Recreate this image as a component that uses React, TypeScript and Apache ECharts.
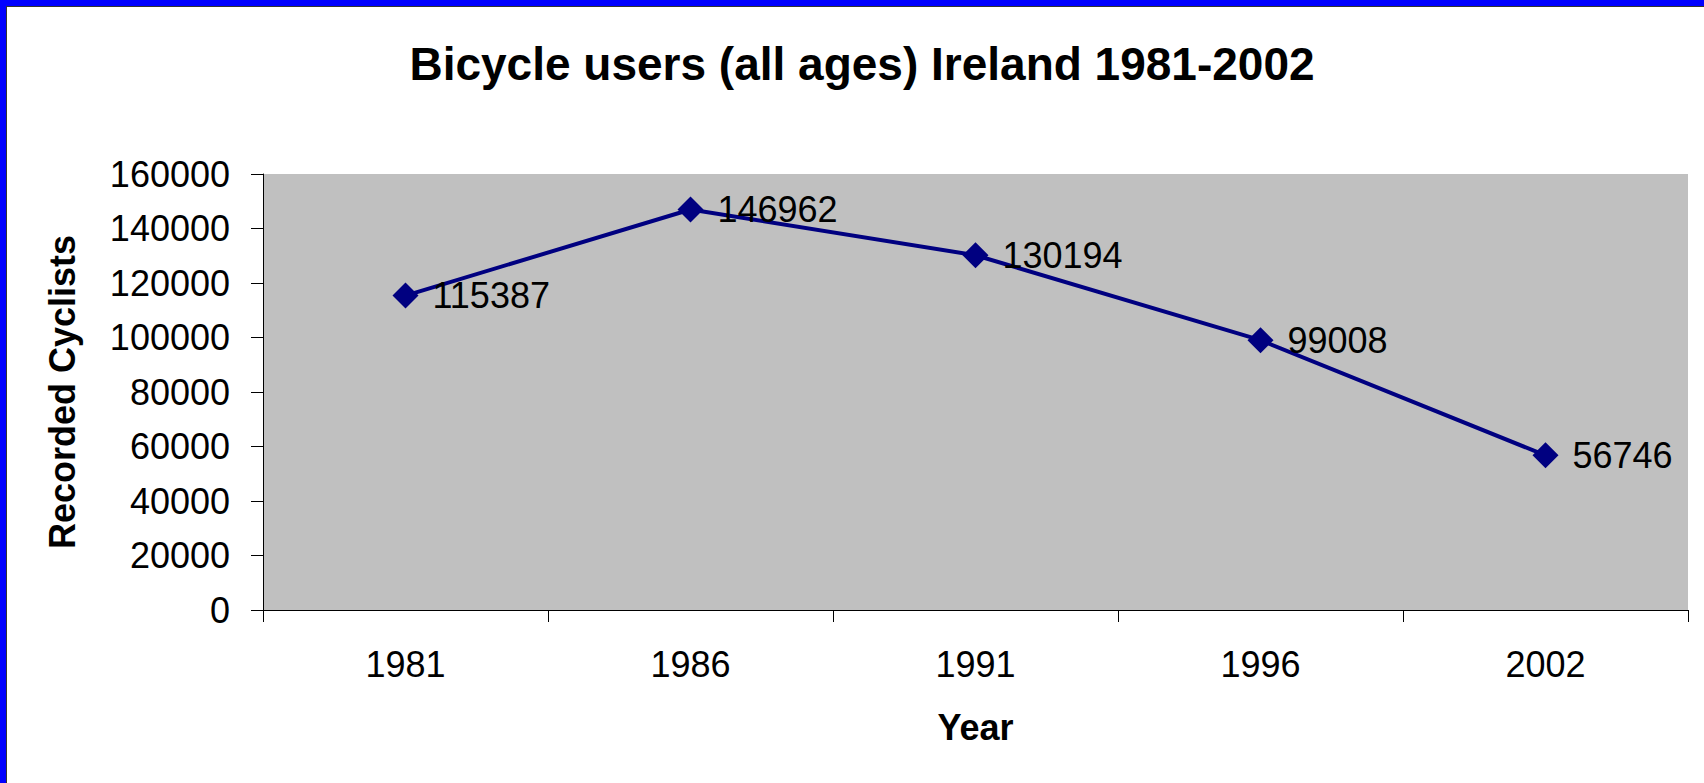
import React, { useEffect, useRef } from "react";
import * as echarts from "echarts";

const years = ["1981", "1986", "1991", "1996", "2002"];
const cyclists = [115387, 146962, 130194, 99008, 56746];
const yTicks = { min: 0, max: 160000, interval: 20000 };
const titleText = "Bicycle users (all ages) Ireland 1981-2002";
const xName = "Year";
const yName = "Recorded Cyclists";

const FONT = "'Liberation Sans', Arial, sans-serif";

export default function App() {
  const ref = useRef<HTMLDivElement>(null);
  useEffect(() => {
    document.body.style.margin = "0";
    const chart = echarts.init(ref.current!, null, { renderer: "svg" });
    chart.setOption({
      animation: false,
      backgroundColor: "#ffffff",
      textStyle: { fontFamily: FONT },
      title: {
        text: titleText,
        left: 857,
        top: 36,
        textAlign: "center",
        textStyle: { fontFamily: FONT, fontSize: 46, fontWeight: "bold", color: "#000" },
      },
      graphic: [
        { type: "rect", shape: { x: 0, y: 0, width: 6, height: 783 }, style: { fill: "#0000FF" }, silent: true },
        { type: "rect", shape: { x: 0, y: 0, width: 1704, height: 6 }, style: { fill: "#0000FF" }, silent: true },
        { type: "rect", shape: { x: 6, y: 6, width: 1, height: 777 }, style: { fill: "#333" }, silent: true },
        { type: "rect", shape: { x: 6, y: 6, width: 1698, height: 1 }, style: { fill: "#333" }, silent: true },
      ],
      grid: {
        left: 263,
        right: 16,
        top: 174,
        bottom: 173,
        show: true,
        backgroundColor: "#C0C0C0",
        borderWidth: 0,
      },
      xAxis: {
        type: "category",
        data: years,
        boundaryGap: true,
        name: xName,
        nameLocation: "middle",
        nameGap: 99,
        nameTextStyle: { fontFamily: FONT, fontSize: 36, fontWeight: "bold", color: "#000" },
        axisLine: { show: true, lineStyle: { color: "#000", width: 1 } },
        axisTick: { show: true, interval: 0, length: 12, lineStyle: { color: "#000", width: 1 } },
        axisLabel: { margin: 36, fontFamily: FONT, fontSize: 36, color: "#000", interval: 0 },
        splitLine: { show: false },
      },
      yAxis: {
        type: "value",
        min: yTicks.min,
        max: yTicks.max,
        interval: yTicks.interval,
        name: yName,
        nameLocation: "middle",
        nameGap: 183,
        nameRotate: 90,
        nameTextStyle: { fontFamily: FONT, fontSize: 36, fontWeight: "bold", color: "#000" },
        axisLine: { show: true, lineStyle: { color: "#000", width: 1 } },
        axisTick: { show: true, length: 12, lineStyle: { color: "#000", width: 1 } },
        axisLabel: {
          margin: 33,
          fontFamily: FONT,
          fontSize: 36,
          color: "#000",
          formatter: (v: number) => String(v),
        },
        splitLine: { show: false },
      },
      series: [
        {
          type: "line",
          data: cyclists,
          symbol: "diamond",
          symbolSize: 26,
          lineStyle: { color: "#000080", width: 4 },
          itemStyle: { color: "#000080" },
          label: {
            show: true,
            position: "right",
            distance: 14,
            fontFamily: FONT,
            fontSize: 36,
            color: "#000",
          },
        },
      ],
    });
    return () => chart.dispose();
  }, []);
  return <div ref={ref} style={{ width: 1704, height: 783 }} />;
}
